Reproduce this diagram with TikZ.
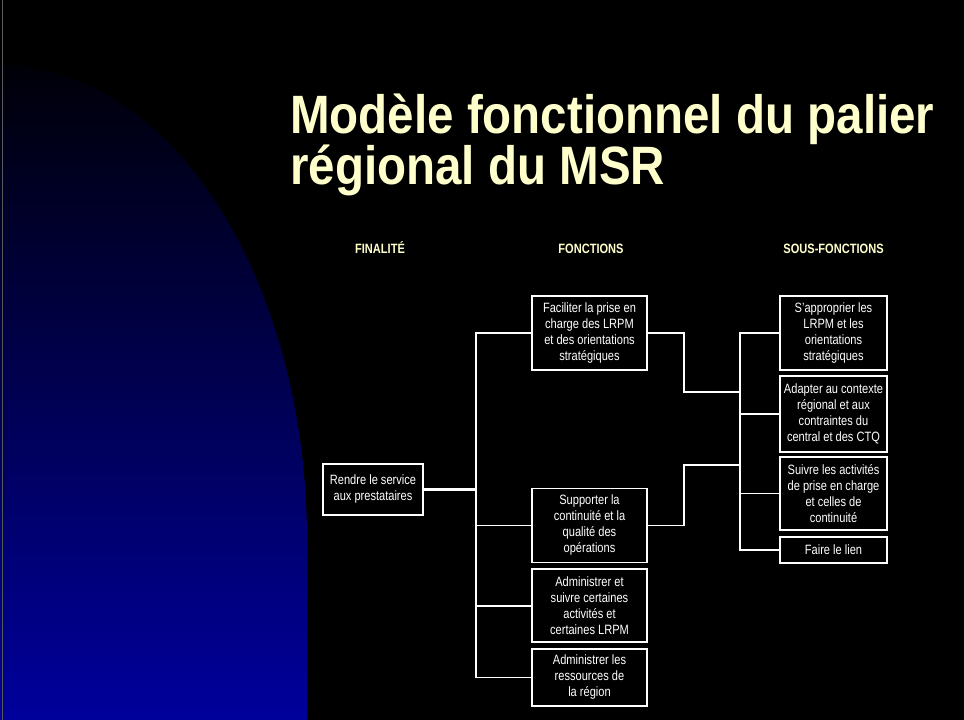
\documentclass[tikz,border=0pt]{standalone}
\usepackage{fontspec}
\setmainfont{Liberation Sans}[FakeStretch=0.82]
\newfontfamily\titlefont{Liberation Sans}[FakeStretch=0.88]
\definecolor{titleyellow}{RGB}{255,255,204}
\definecolor{navytop}{RGB}{0,0,8}
\definecolor{navybot}{RGB}{0,0,156}
\definecolor{edgegray}{RGB}{90,90,90}
\begin{document}
\begin{tikzpicture}[x=1pt,y=-1pt,
  box/.style={draw=white, line width=1.6pt, fill=black, text=white, inner sep=0pt,
    align=center, font=\fontsize{13.5}{16}\selectfont},
  hdr/.style={text=titleyellow, font=\bfseries\fontsize{13.5}{16}\selectfont, inner sep=0pt, anchor=base},
  ttl/.style={text=titleyellow, font=\titlefont\bfseries\fontsize{54}{54}\selectfont, inner sep=0pt, anchor=base west},
  link/.style={draw=white, line width=1.6pt},
  mainlink/.style={draw=white, line width=2.6pt}]
\useasboundingbox (0,0) rectangle (964,720);
\fill[black] (0,0) rectangle (964,720);
% blue quarter shape
\shade[top color=navytop, bottom color=navybot]
  (0,720) -- (307,720) -- (307,540)
  -- plot[domain=0:90, samples=80] ({307*cos(\x)}, {540-475*sin(\x)})
  -- cycle;
\draw[edgegray, line width=0.8pt] (2.5,0) -- (2.5,720);

% title
\node[ttl] (title1) at (290,133) {Modèle fonctionnel du palier};
\node[ttl] (title2) at (290,184) {régional du MSR};

% headers
\node[hdr] (h1) at (380,253) {FINALITÉ};
\node[hdr] (h2) at (591,253) {FONCTIONS};
\node[hdr] (h3) at (833.5,253) {SOUS-FONCTIONS};

% finalite
\node[box, minimum width=100pt, minimum height=51pt] (rendre) at (373,489.5) {Rendre le service\\aux prestataires};

% fonctions
\node[box, minimum width=115pt, minimum height=74pt] (f1) at (589.5,333) {Faciliter la prise en\\charge des LRPM\\et des orientations\\stratégiques};
\node[box, minimum width=115pt, minimum height=74pt] (f2) at (589.5,525.3) {Supporter la\\continuité et la\\qualité des\\opérations};
\node[box, minimum width=115pt, minimum height=73pt] (f3) at (589.5,605.7) {Administrer et\\suivre certaines\\activités et\\certaines LRPM};
\node[box, minimum width=115pt, minimum height=57pt] (f4) at (589.5,677.5) {Administrer les\\ressources de\\la région};

% sous-fonctions
\node[box, minimum width=107pt, minimum height=74pt] (s1) at (833.5,333) {S’approprier les\\LRPM et les\\orientations\\stratégiques};
\node[box, minimum width=107pt, minimum height=76pt] (s2) at (833.5,414) {Adapter au contexte\\régional et aux\\contraintes du\\central et des CTQ};
\node[box, minimum width=107pt, minimum height=73pt] (s3) at (833.5,493.3) {Suivre les activités\\de prise en charge\\et celles de\\continuité};
\node[box, minimum width=107pt, minimum height=26pt] (s4) at (833.5,549.7) {Faire le lien};

% trunk coordinates
\coordinate (ftrunk) at (476,0);
\coordinate (mid) at (684,0);
\coordinate (strunk) at (740,0);
\coordinate (b1) at (740,392);
\coordinate (b2) at (740,464.7);

% connectors
\draw[mainlink] (rendre.east) -- (rendre.east -| ftrunk);
\draw[link] (f1.west) -- (f1.west -| ftrunk) |- (f4.west);
\draw[link] (f2.west) -- (f2.west -| ftrunk);
\draw[link] (f3.west) -- (f3.west -| ftrunk);

\draw[link] (f1.east) -- (f1.east -| mid) |- (b1);
\draw[link] (f2.east) -- (f2.east -| mid) |- (b2);

\draw[link] (s1.west) -- (s1.west -| strunk) |- (s4.west);
\draw[link] (s2.west) -- (s2.west -| strunk);
\draw[link] (s3.west) -- (s3.west -| strunk);
\end{tikzpicture}
\end{document}
